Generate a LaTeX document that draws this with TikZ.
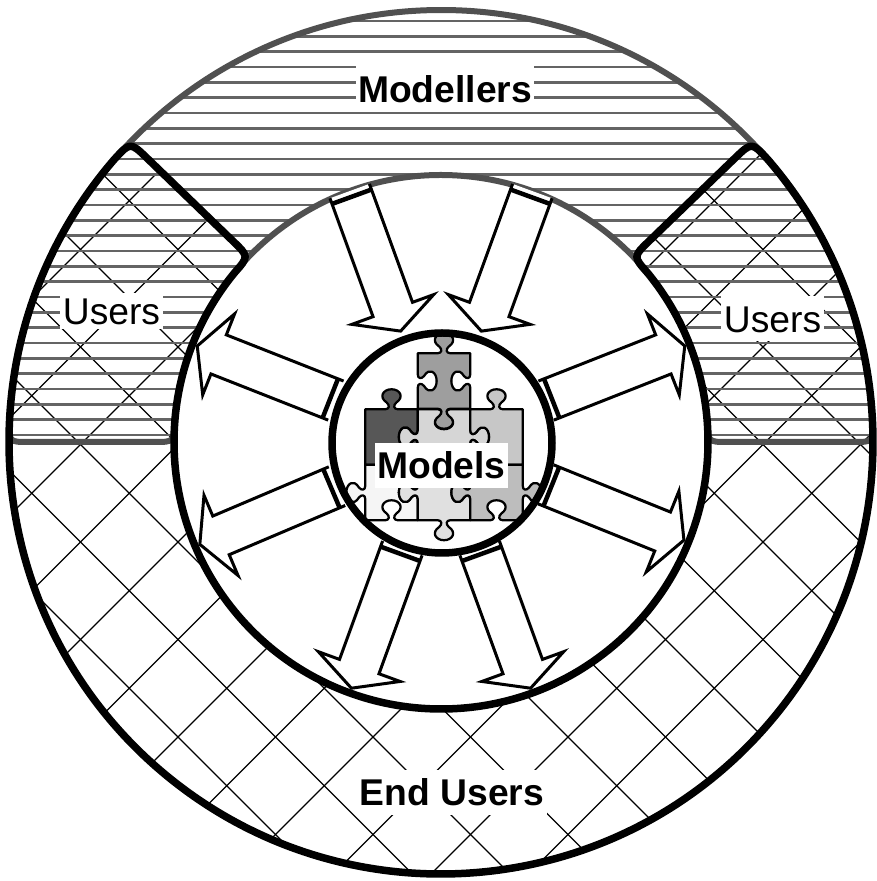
\documentclass[tikz,border=0pt]{standalone}
\usepackage{fontspec}
\setmainfont{Liberation Sans}
\usetikzlibrary{positioning}
\definecolor{rim}{RGB}{80,80,80}
\definecolor{stripe}{RGB}{100,100,100}
\tikzstyle{rimline} = [
    line width=0.12cm,
    draw=rim,
    line join=round
]
\tikzstyle{ringline} = [
    line width=0.15cm,
    draw=black,
    line join=round
]
\tikzstyle{stripeline} = [line width=0.05cm, draw=stripe]
\tikzstyle{gridline} = [line width=0.025cm, draw=black]
\tikzstyle{flow} = [
    line width=0.06cm,
    draw=black,
    fill=white,
    line join=miter
]
\tikzstyle{flowbar} = [line width=0.09cm, draw=black]
\tikzstyle{piece} = [line width=0.045cm, draw=black, line join=round]
\newcommand{\tagfont}{\fontsize{21.2pt}{24pt}\selectfont}
\tikzstyle{tag} = [
    fill=white,
    inner xsep=0.05cm,
    inner ysep=0.18cm,
    text height=0.54cm,
    text depth=0pt,
    font=\tagfont
]
% lower ring (end users), cut radially at 136 and 44 degrees
\newcommand{\lowerring}{(136:408) .. controls (136:432) .. (139.2:432)
    arc[start angle=139.2, end angle=400.8, radius=432] .. controls (404:432) .. (404:408)
    -- (404:289) .. controls (404:267) .. (399.3:267)
    arc[start angle=399.3, end angle=140.7, radius=267] .. controls (136:267) .. (136:289) -- cycle}
% upper ring (modellers)
\newcommand{\upperring}{(0:287) -- (0:412) .. controls (0:432) .. (2.7:432)
    arc[start angle=2.7, end angle=177.3, radius=432] .. controls (180:432) .. (180:412)
    -- (180:287) .. controls (180:267) .. (175.7:267)
    arc[start angle=175.7, end angle=4.3, radius=267] .. controls (0:267) .. (0:287) -- cycle}
% one jigsaw edge, the top one turned by #1; #2 = 1 tab, -1 hole, 0 flat
\newcommand{\pedge}[2]{-- ([rotate=#1]-0.12,0.5)
    .. controls ([rotate=#1]-0.04,0.5) and ([rotate=#1]-0.03,{0.5+0.07*#2}) .. ([rotate=#1]-0.09,{0.5+0.12*#2})
    .. controls ([rotate=#1]-0.25,{0.5+0.22*#2}) and ([rotate=#1]-0.16,{0.5+0.36*#2}) .. ([rotate=#1]0,{0.5+0.36*#2})
    .. controls ([rotate=#1]0.16,{0.5+0.36*#2}) and ([rotate=#1]0.25,{0.5+0.22*#2}) .. ([rotate=#1]0.09,{0.5+0.12*#2})
    .. controls ([rotate=#1]0.03,{0.5+0.07*#2}) and ([rotate=#1]0.04,0.5) .. ([rotate=#1]0.12,0.5)
    -- ([rotate=#1]0.5,0.5)}
% block arrows
\newcommand{\outflow}[1]{%
    \begin{scope}[rotate=#1, shift={(119,0)}]
        \filldraw[flow] (-6,21) -- (120,21) -- (120,43.5) -- (143,0) -- (120,-43.5) -- (120,-21) -- (-6,-21);
        \draw[flowbar] (0,-21) -- (0,21);
    \end{scope}}
\newcommand{\inflow}[1]{%
    \begin{scope}[rotate=#1, shift={(261,0)}, xscale=-1]
        \filldraw[flow] (-6,21) -- (120,21) -- (120,43.5) -- (143,0) -- (120,-43.5) -- (120,-21) -- (-6,-21);
        \draw[flowbar] (0,-21) -- (0,21);
    \end{scope}}

\begin{document}
\begin{tikzpicture}[x=0.02cm, y=0.02cm]
    \useasboundingbox (-441,-439) rectangle (435,442);

    % cross hatching of the end users
    \begin{scope}
        \clip \lowerring;
        \foreach \k in {-10,...,10} {
            \draw[gridline] (-500,{527+97.5*\k}) -- (500,{-473+97.5*\k});
            \draw[gridline] (-500,{-532-97.5*\k}) -- (500,{468-97.5*\k});
        }
    \end{scope}

    % stripes of the modellers
    \begin{scope}
        \clip \upperring;
        \foreach \k in {-4,...,27}
            \draw[stripeline] (-450,{390.3-15.33*\k}) -- (450,{390.3-15.33*\k});
    \end{scope}

    \draw[rimline] \upperring;
    \draw[ringline] \lowerring;

    % arrows between the models and the rings
    \inflow{70}
    \inflow{110}
    \outflow{21.5}
    \outflow{-22}
    \outflow{158.5}
    \outflow{203}
    \outflow{250}
    \outflow{290}

    % puzzle of models
    \fill[white] (1,-1) circle[radius=110];
    \begin{scope}
        \clip (1,-1) circle[radius=108];
        \foreach \px/\py/\shade/\eT/\eR/\eB/\eL in {
                3/61/black!38/1/-1/1/-1,
                -49.5/5/black!66/1/-1/-1/0,
                3/5/black!16/-1/1/1/1,
                55.5/5/black!22/1/0/-1/-1,
                -49.5/-50.5/black!4/1/-1/-1/1,
                3/-50.5/black!12/-1/-1/1/1,
                55.5/-50.5/black!26/1/1/-1/1} {
            \begin{scope}[shift={(\px,\py)}, xscale=52.5, yscale=55.5]
                \filldraw[piece, fill=\shade] (-0.5,0.5) \pedge{0}{\eT} \pedge{-90}{\eR}
                    \pedge{-180}{\eB} \pedge{-270}{\eL} -- cycle;
            \end{scope}
        }
    \end{scope}
    \draw[ringline] (1,-1) circle[radius=110];

    % names
    \node[tag, font=\tagfont\bfseries] (modellers) at (4,353) {Modellers};
    \node[tag, inner ysep=0.09cm] (usersleft) at (-329.5,131) {Users};
    \node[tag] (usersright) at (331.5,123) {Users};
    \node[tag, font=\tagfont\bfseries] (endusers) at (11,-350.5) {End Users};
    \node[tag, font=\tagfont\bfseries] (models) at (0.5,-23.5) {Models};
\end{tikzpicture}
\end{document}
